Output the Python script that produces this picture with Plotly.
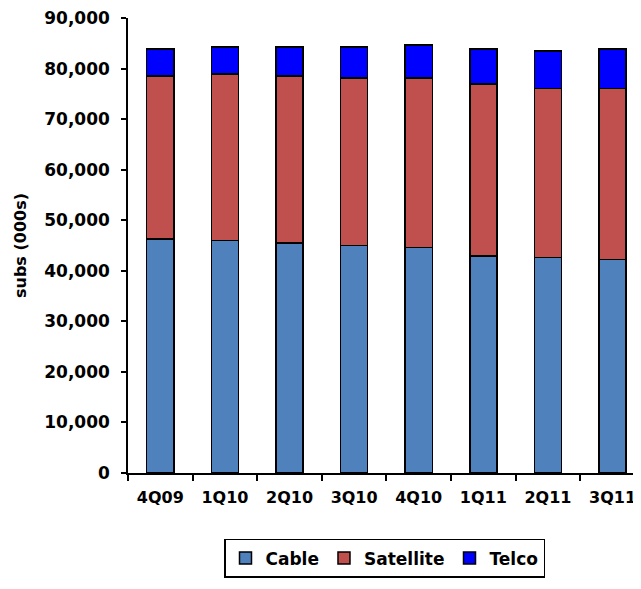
import plotly.graph_objects as go

quarters = ["4Q09", "1Q10", "2Q10", "3Q10", "4Q10", "1Q11", "2Q11", "3Q11"]
cable = [46300, 46000, 45500, 45000, 44600, 42900, 42600, 42200]
satellite = [32200, 32900, 33000, 33100, 33500, 34000, 33500, 33900]
telco = [5400, 5400, 5800, 6200, 6600, 7000, 7400, 7800]

FONT = "DejaVu Sans"
fig = go.Figure()
for name, vals, col in [("Cable", cable, "#4F81BD"),
                        ("Satellite", satellite, "#C0504D"),
                        ("Telco", telco, "#0000FF")]:
    fig.add_trace(go.Bar(x=quarters, y=vals, name=name, width=0.42,
                         marker=dict(color=col, line=dict(color="black", width=1.5))))

fig.update_layout(
    width=633, height=581,
    barmode="stack",
    plot_bgcolor="white", paper_bgcolor="white",
    margin=dict(l=120, r=0, t=10, b=116, autoexpand=False),
    font=dict(family=FONT, size=16, color="black", weight="bold"),
    showlegend=True,
    legend=dict(orientation="h", x=0.5, xanchor="center",
                y=-0.145, yanchor="top",
                bordercolor="black", borderwidth=1.5, font=dict(size=17, weight="bold"),
                traceorder="normal", itemwidth=30),
    xaxis=dict(type="category", range=[-0.5, 7.44], showline=True, linecolor="black",
               linewidth=2, ticks="outside", tickson="boundaries", ticklen=6,
               tickcolor="black", tickwidth=1.5, showgrid=False, ticklabelstandoff=9,
               tickfont=dict(size=16, weight="bold"), automargin=False),
    yaxis=dict(range=[0, 90000], tickvals=list(range(0, 90001, 10000)),
               tickformat=",d", showline=True, linecolor="black", linewidth=1.5,
               ticks="outside", ticklen=5, tickcolor="black", tickwidth=1.5,
               showgrid=False, zeroline=False, ticklabelstandoff=8,
               ticklabeloverflow="allow",
               tickfont=dict(size=17, weight="bold"), automargin=False,
               title=dict(text="subs (000s)", standoff=14, font=dict(size=16, weight="bold"))),
)
fig.write_html("out.html")
